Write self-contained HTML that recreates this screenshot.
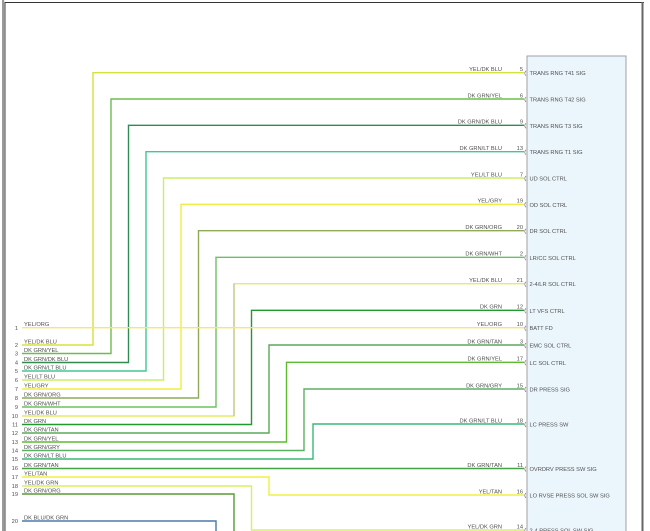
<!DOCTYPE html>
<html><head><meta charset="utf-8"><style>
html,body{margin:0;padding:0;background:#fff;}
svg{display:block;}
text{font-family:"Liberation Sans",sans-serif;font-size:5.7px;fill:#505050;}
</style></head><body>
<svg width="650" height="531" viewBox="0 0 650 531" xmlns="http://www.w3.org/2000/svg">
<rect x="0" y="0" width="650" height="531" fill="#fff"/>
<!-- frame -->
<rect x="2" y="0" width="2.2" height="531" fill="#9a9a9a"/>
<line x1="5" y1="2" x2="5" y2="531" stroke="#444" stroke-width="1"/>
<line x1="5" y1="2.5" x2="644" y2="2.5" stroke="#333" stroke-width="1"/>
<line x1="642.5" y1="2" x2="642.5" y2="531" stroke="#666" stroke-width="2"/>
<!-- connector box -->
<rect x="527" y="56" width="99" height="480" fill="#eaf6fc" stroke="#a0a0a0" stroke-width="1"/>

<g fill="none" stroke-width="1.4">
<polyline points="22,345 93,345 93,72.7 524,72.7" stroke="#d6e23c"/>
<polyline points="22,353.5 111,353.5 111,99 524,99" stroke="#6cbd4c"/>
<polyline points="22,362.5 128.5,362.5 128.5,125.3 524,125.3" stroke="#2f8c4e"/>
<polyline points="22,371 146,371 146,151.7 524,151.7" stroke="#40c890"/>
<polyline points="22,380 163.5,380 163.5,178 524,178" stroke="#c8f060"/>
<polyline points="22,389 181,389 181,204.3 524,204.3" stroke="#f0ee40"/>
<polyline points="22,398 198.5,398 198.5,230.7 524,230.7" stroke="#8eaa58"/>
<polyline points="22,407 216,407 216,257.3 524,257.3" stroke="#6cc064"/>
<polyline points="22,416 234,416 234,283.7 524,283.7" stroke="#e6ea66"/>
<line x1="234" y1="283.7" x2="234" y2="416" stroke="#c8c89a"/>
<polyline points="22,424.5 251.5,424.5 251.5,310.3 524,310.3" stroke="#1e9a2e"/>
<polyline points="22,327.7 524,327.7" stroke="#f8e868"/>
<polyline points="22,433 269,433 269,345 524,345" stroke="#5aa858"/>
<polyline points="22,442 286.5,442 286.5,362.3 524,362.3" stroke="#5cbc30"/>
<polyline points="22,450.5 304,450.5 304,389 524,389" stroke="#5cb064"/>
<polyline points="22,459 313,459 313,424 524,424" stroke="#38b878"/>
<polyline points="22,468.5 524,468.5" stroke="#44a444"/>
<polyline points="22,477 269,477 269,495 524,495" stroke="#f0f040"/>
<polyline points="22,486 251.5,486 251.5,530 524,530" stroke="#d8f060"/>
<polyline points="22,494 234,494 234,535" stroke="#5a9a34"/>
<polyline points="22,521 216,521 216,535" stroke="#4a78a8"/>
</g>

<!-- connector arcs -->
<g fill="none" stroke="#777" stroke-width="0.7">
<path d="M526,70.7 Q523.5,73.2 526,75.7"/>
<path d="M526,97 Q523.5,99.5 526,102"/>
<path d="M526,123.3 Q523.5,125.8 526,128.3"/>
<path d="M526,149.7 Q523.5,152.2 526,154.7"/>
<path d="M526,176 Q523.5,178.5 526,181"/>
<path d="M526,202.3 Q523.5,204.8 526,207.3"/>
<path d="M526,228.7 Q523.5,231.2 526,233.7"/>
<path d="M526,255.3 Q523.5,257.8 526,260.3"/>
<path d="M526,281.7 Q523.5,284.2 526,286.7"/>
<path d="M526,308.3 Q523.5,310.8 526,313.3"/>
<path d="M526,325.7 Q523.5,328.2 526,330.7"/>
<path d="M526,343 Q523.5,345.5 526,348"/>
<path d="M526,360.3 Q523.5,362.8 526,365.3"/>
<path d="M526,387 Q523.5,389.5 526,392"/>
<path d="M526,422 Q523.5,424.5 526,427"/>
<path d="M526,466.5 Q523.5,469 526,471.5"/>
<path d="M526,493 Q523.5,495.5 526,498"/>
<path d="M526,528 Q523.5,530.5 526,533"/>
</g>

<!-- right wire labels -->
<g text-anchor="end">
<text x="502" y="71">YEL/DK BLU</text><text x="523" y="71">5</text>
<text x="502" y="97.3">DK GRN/YEL</text><text x="523" y="97.3">6</text>
<text x="502" y="123.6">DK GRN/DK BLU</text><text x="523" y="123.6">9</text>
<text x="502" y="150">DK GRN/LT BLU</text><text x="523" y="150">13</text>
<text x="502" y="176.3">YEL/LT BLU</text><text x="523" y="176.3">7</text>
<text x="502" y="202.6">YEL/GRY</text><text x="523" y="202.6">19</text>
<text x="502" y="229">DK GRN/ORG</text><text x="523" y="229">20</text>
<text x="502" y="255.6">DK GRN/WHT</text><text x="523" y="255.6">2</text>
<text x="502" y="282">YEL/DK BLU</text><text x="523" y="282">21</text>
<text x="502" y="308.6">DK GRN</text><text x="523" y="308.6">12</text>
<text x="502" y="326">YEL/ORG</text><text x="523" y="326">10</text>
<text x="502" y="343.3">DK GRN/TAN</text><text x="523" y="343.3">3</text>
<text x="502" y="360.6">DK GRN/YEL</text><text x="523" y="360.6">17</text>
<text x="502" y="387.3">DK GRN/GRY</text><text x="523" y="387.3">15</text>
<text x="502" y="422.3">DK GRN/LT BLU</text><text x="523" y="422.3">18</text>
<text x="502" y="466.8">DK GRN/TAN</text><text x="523" y="466.8">11</text>
<text x="502" y="493.3">YEL/TAN</text><text x="523" y="493.3">16</text>
<text x="502" y="528.3">YEL/DK GRN</text><text x="523" y="528.3">14</text>
</g>

<!-- box labels -->
<g>
<text x="529.5" y="75.2">TRANS RNG T41 SIG</text>
<text x="529.5" y="101.5">TRANS RNG T42 SIG</text>
<text x="529.5" y="127.8">TRANS RNG T3 SIG</text>
<text x="529.5" y="154.2">TRANS RNG T1 SIG</text>
<text x="529.5" y="180.5">UD SOL CTRL</text>
<text x="529.5" y="206.8">OD SOL CTRL</text>
<text x="529.5" y="233.2">DR SOL CTRL</text>
<text x="529.5" y="259.8">LR/CC SOL CTRL</text>
<text x="529.5" y="286.2">2-4/LR SOL CTRL</text>
<text x="529.5" y="312.8">LT VFS CTRL</text>
<text x="529.5" y="330.2">BATT FD</text>
<text x="529.5" y="347.5">EMC SOL CTRL</text>
<text x="529.5" y="364.8">LC SOL CTRL</text>
<text x="529.5" y="391.5">DR PRESS SIG</text>
<text x="529.5" y="426.5">LC PRESS SW</text>
<text x="529.5" y="471">OVRDRV PRESS SW SIG</text>
<text x="529.5" y="497.5">LO RVSE PRESS SOL SW SIG</text>
<text x="529.5" y="532.5">2-4 PRESS SOL SW SIG</text>
</g>

<!-- left labels -->
<g>
<text x="24" y="326">YEL/ORG</text>
<text x="24" y="343.3">YEL/DK BLU</text>
<text x="24" y="351.8">DK GRN/YEL</text>
<text x="24" y="360.8">DK GRN/DK BLU</text>
<text x="24" y="369.3">DK GRN/LT BLU</text>
<text x="24" y="378.3">YEL/LT BLU</text>
<text x="24" y="387.3">YEL/GRY</text>
<text x="24" y="396.3">DK GRN/ORG</text>
<text x="24" y="405.3">DK GRN/WHT</text>
<text x="24" y="414.3">YEL/DK BLU</text>
<text x="24" y="422.8">DK GRN</text>
<text x="24" y="431.3">DK GRN/TAN</text>
<text x="24" y="440.3">DK GRN/YEL</text>
<text x="24" y="448.8">DK GRN/GRY</text>
<text x="24" y="457.3">DK GRN/LT BLU</text>
<text x="24" y="466.8">DK GRN/TAN</text>
<text x="24" y="475.3">YEL/TAN</text>
<text x="24" y="484.3">YEL/DK GRN</text>
<text x="24" y="492.3">DK GRN/ORG</text>
<text x="24" y="519.3">DK BLU/DK GRN</text>
</g>
<g text-anchor="end">
<text x="18" y="330">1</text>
<text x="18" y="347">2</text>
<text x="18" y="355.5">3</text>
<text x="18" y="364.5">4</text>
<text x="18" y="373">5</text>
<text x="18" y="382">6</text>
<text x="18" y="391">7</text>
<text x="18" y="400">8</text>
<text x="18" y="409">9</text>
<text x="18" y="418">10</text>
<text x="18" y="426.5">11</text>
<text x="18" y="435">12</text>
<text x="18" y="444">13</text>
<text x="18" y="452.5">14</text>
<text x="18" y="461">15</text>
<text x="18" y="470">16</text>
<text x="18" y="479">17</text>
<text x="18" y="488">18</text>
<text x="18" y="496">19</text>
<text x="18" y="523">20</text>
</g>
</svg>
</body></html>
